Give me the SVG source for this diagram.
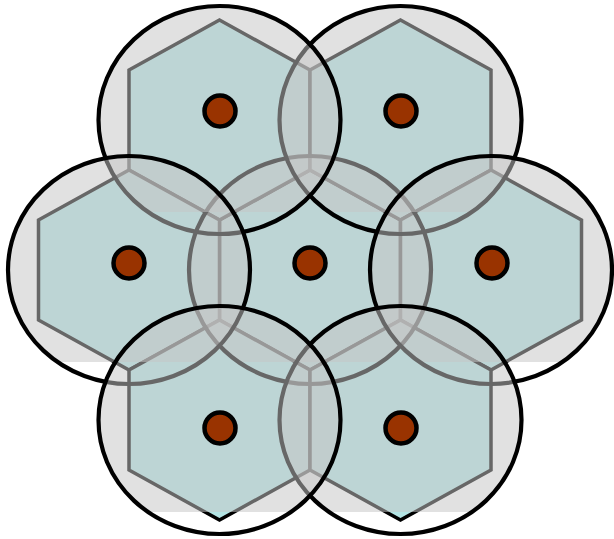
<svg xmlns="http://www.w3.org/2000/svg" width="614" height="539" viewBox="0 0 614 539">
  <style>
    .hex { fill: #b4e5e5; stroke: #000; stroke-width: 3.5; stroke-linejoin: miter; }
    .fill { fill: #c6c6c6; fill-opacity: 0.52; stroke: none; }
    .ring { fill: none; stroke: #000; stroke-width: 4.2; }
    .dot { fill: #993300; stroke: #000; stroke-width: 4.5; }
  </style>
  <defs>
    <polygon id="hexShape" points="0,-100 90.5,-50 90.5,50 0,100 -90.5,50 -90.5,-50"/>
    <clipPath id="rectClip" clipPathUnits="objectBoundingBox">
      <rect x="-0.1" y="-0.1" width="1.2" height="1.0035"/>
    </clipPath>
  </defs>
  <rect width="614" height="539" fill="#fff"/>

  <g id="hexagons">
    <use id="hex-center" href="#hexShape" class="hex" x="310" y="270"/>
    <use id="hex-top-left" href="#hexShape" class="hex" x="219.5" y="120"/>
    <use id="hex-top-right" href="#hexShape" class="hex" x="400.5" y="120"/>
    <use id="hex-left" href="#hexShape" class="hex" x="129" y="270"/>
    <use id="hex-right" href="#hexShape" class="hex" x="491" y="270"/>
    <use id="hex-bottom-left" href="#hexShape" class="hex" x="219.5" y="420"/>
    <use id="hex-bottom-right" href="#hexShape" class="hex" x="400.5" y="420"/>
  </g>

  <g id="cell-center">
    <ellipse class="fill" cx="310" cy="270" rx="121" ry="114" clip-path="url(#rectClip)"/>
    <ellipse class="ring" cx="310" cy="270" rx="121" ry="114"/>
    <circle class="dot" cx="310" cy="263" r="15.5"/>
  </g>
  <g id="cell-top-right">
    <ellipse class="fill" cx="400.5" cy="120" rx="121" ry="114" clip-path="url(#rectClip)"/>
    <ellipse class="ring" cx="400.5" cy="120" rx="121" ry="114"/>
    <circle class="dot" cx="401" cy="111" r="15.5"/>
  </g>
  <g id="cell-top-left">
    <ellipse class="fill" cx="219.5" cy="120" rx="121" ry="114" clip-path="url(#rectClip)"/>
    <ellipse class="ring" cx="219.5" cy="120" rx="121" ry="114"/>
    <circle class="dot" cx="220" cy="111" r="15.5"/>
  </g>
  <g id="cell-left">
    <ellipse class="fill" cx="129" cy="270" rx="121" ry="114" clip-path="url(#rectClip)"/>
    <ellipse class="ring" cx="129" cy="270" rx="121" ry="114"/>
    <circle class="dot" cx="129" cy="263" r="15.5"/>
  </g>
  <g id="cell-right">
    <ellipse class="fill" cx="491" cy="270" rx="121" ry="114" clip-path="url(#rectClip)"/>
    <ellipse class="ring" cx="491" cy="270" rx="121" ry="114"/>
    <circle class="dot" cx="492" cy="263" r="15.5"/>
  </g>
  <g id="cell-bottom-right">
    <ellipse class="fill" cx="400.5" cy="420" rx="121" ry="114" clip-path="url(#rectClip)"/>
    <ellipse class="ring" cx="400.5" cy="420" rx="121" ry="114"/>
    <circle class="dot" cx="401" cy="428" r="15.5"/>
  </g>
  <g id="cell-bottom-left">
    <ellipse class="fill" cx="219.5" cy="420" rx="121" ry="114" clip-path="url(#rectClip)"/>
    <ellipse class="ring" cx="219.5" cy="420" rx="121" ry="114"/>
    <circle class="dot" cx="220" cy="428" r="15.5"/>
  </g>
</svg>
